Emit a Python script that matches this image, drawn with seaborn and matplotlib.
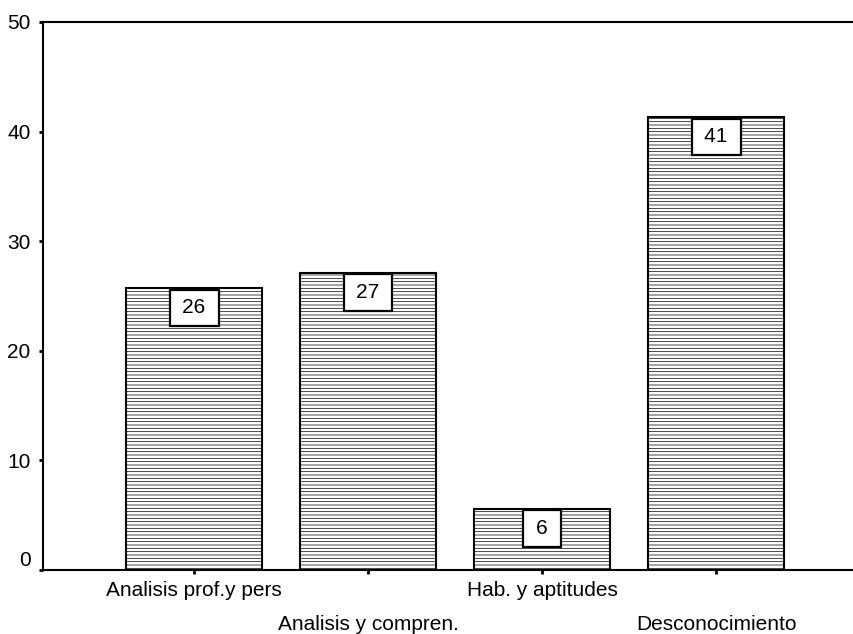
import numpy as np
import pandas as pd
import seaborn as sns
import matplotlib
matplotlib.use("Agg")
import matplotlib.pyplot as plt

categorias = ["Analisis prof.y pers", "Analisis y compren.", "Hab. y aptitudes", "Desconocimiento"]
valores = [25.7, 27.1, 5.6, 41.3]
etiquetas = ["26", "27", "6", "41"]

df = pd.DataFrame({"cat": categorias, "val": valores})

sns.set_style("white")
plt.rcParams['font.family'] = ['Liberation Sans', 'DejaVu Sans']
plt.rcParams['text.color'] = 'black'
plt.rcParams['xtick.color'] = 'black'
plt.rcParams['ytick.color'] = 'black'
plt.rcParams['hatch.color'] = '#a8a8a8'
plt.rcParams['hatch.linewidth'] = 0.5

fig = plt.figure(figsize=(8.54, 6.34), dpi=100)
ax = fig.add_axes([0.0504, 0.1009, 0.9496, 0.8644])

sns.barplot(data=df, x="cat", y="val", color="white", edgecolor="black",
            linewidth=1.5, width=0.782, hatch="-----", ax=ax)

# cajas con el valor redondeado
for i, (v, t) in enumerate(zip(valores, etiquetas)):
    ax.annotate("\u2009" + t + "\u2009", xy=(i, v), xytext=(0, -7.3), textcoords="offset points",
                ha="center", va="top", fontsize=15, color="black",
                bbox=dict(boxstyle="square,pad=0.42", fc="white", ec="black", lw=1.6))

ax.set_xlim(-0.868, 3.793)
ax.set_ylim(0, 50)
ax.set_yticks([0, 10, 20, 30, 40, 50])
ax.set_xticks(range(4))
ax.set_xticklabels([c if i % 2 == 0 else "\n" + c for i, c in enumerate(categorias)], fontsize=15)
for lab in ax.get_xticklabels():
    lab.set_linespacing(2.0)
ax.tick_params(axis="both", direction="out", length=3, width=2, color="black",
               labelsize=15, labelcolor="black", bottom=True, left=True)
ax.tick_params(axis="y", pad=6)
ax.tick_params(axis="x", pad=5)
ax.get_yticklabels()[0].set_verticalalignment("bottom")
ax.set_xlabel("")
ax.set_ylabel("")
ax.spines["right"].set_visible(False)
for s in ["left", "bottom", "top"]:
    ax.spines[s].set_linewidth(1.5)
    ax.spines[s].set_color("black")

fig.savefig("out.png", dpi=100)
